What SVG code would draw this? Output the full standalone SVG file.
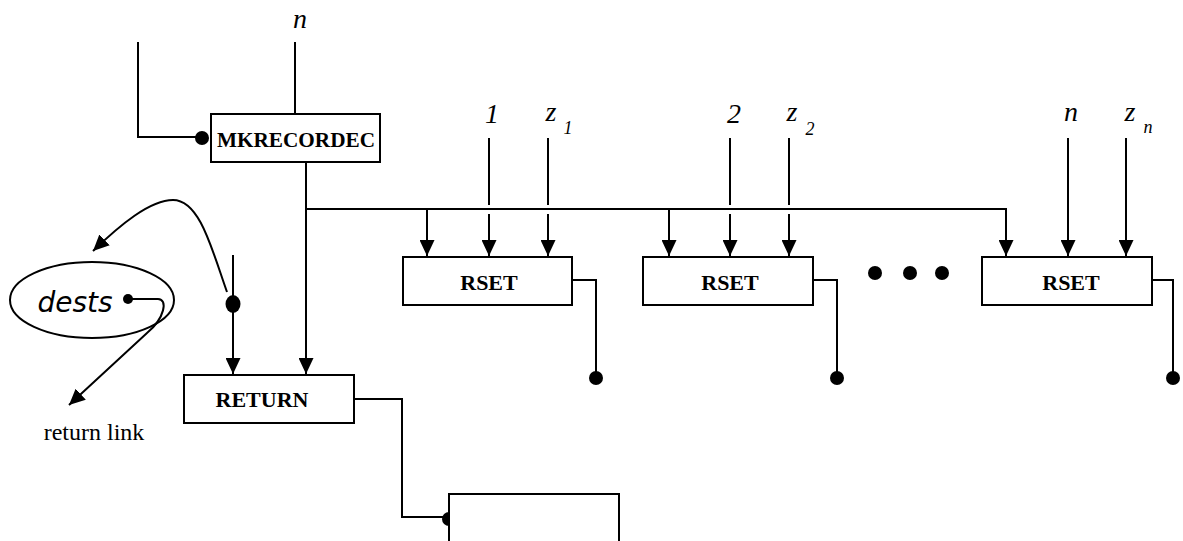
<svg xmlns="http://www.w3.org/2000/svg" width="1183" height="541" viewBox="0 0 1183 541">
<defs>
<marker id="arr" markerUnits="userSpaceOnUse" markerWidth="17" markerHeight="15" viewBox="0 0 17 15" refX="16" refY="7.5" orient="auto">
<path d="M0,0 L16,7.5 L0,15 Z" fill="#000"/>
</marker>
</defs>
<style>
.ln{fill:none;stroke:#000;stroke-width:2}
.box{fill:#fff;stroke:#000;stroke-width:2}
.lbl{font-family:"Liberation Serif",serif;font-weight:bold;font-size:22px;text-anchor:middle}
.it{font-family:"Liberation Serif",serif;font-style:italic;font-size:28px;text-anchor:middle}
.sub{font-family:"Liberation Serif",serif;font-style:italic;font-size:18px;text-anchor:middle}
.dot{fill:#000}
</style>
<rect width="1183" height="541" fill="#fff"/>
<g id="connectors">
<path class="ln" d="M138,42 V137 H198"/>
<circle class="dot" cx="202" cy="138" r="7"/>
<path class="ln" d="M295,42 V114"/>
<path class="ln" d="M306,162 V374" marker-end="url(#arr)"/>
<path class="ln" d="M306,209 H1006 V256" marker-end="url(#arr)"/>
<path class="ln" d="M427,209 V256" marker-end="url(#arr)"/>
<path class="ln" d="M669,209 V256" marker-end="url(#arr)"/>
<path class="ln" d="M489,138 V205 M489,214 V256" marker-end="url(#arr)"/>
<path class="ln" d="M548,138 V205 M548,214 V256" marker-end="url(#arr)"/>
<path class="ln" d="M730,138 V205 M730,214 V256" marker-end="url(#arr)"/>
<path class="ln" d="M789,138 V205 M789,214 V256" marker-end="url(#arr)"/>
<path class="ln" d="M1068,138 V256" marker-end="url(#arr)"/>
<path class="ln" d="M1126,138 V256" marker-end="url(#arr)"/>
<path class="ln" d="M572,280 H596 V376"/>
<circle class="dot" cx="596" cy="378" r="7"/>
<path class="ln" d="M813,280 H837 V376"/>
<circle class="dot" cx="837" cy="378" r="7"/>
<path class="ln" d="M1152,280 H1173 V376"/>
<circle class="dot" cx="1173" cy="378" r="7"/>
<path class="ln" d="M233,255 V374" marker-end="url(#arr)"/>
<ellipse class="dot" cx="233" cy="304" rx="7.5" ry="9"/>
<path class="ln" d="M227,292 C212,250 200,200 173,200 C150,200 120,225 93,251" marker-end="url(#arr)"/>
<path class="ln" d="M130,299 H158 C168,299 165,318 147,333 L69,405" marker-end="url(#arr)"/>
<path class="ln" d="M354,399 H402 V517 H446"/>
<circle class="dot" cx="449" cy="519" r="7"/>
</g>
<g id="mkrecordec">
<rect class="box" x="211" y="114" width="169" height="48"/>
<text class="lbl" x="296" y="147" textLength="158" lengthAdjust="spacingAndGlyphs">MKRECORDEC</text>
</g>
<text class="it" x="300" y="28">n</text>
<g id="rset1">
<rect class="box" x="403" y="257" width="169" height="48"/>
<text class="lbl" x="489" y="290">RSET</text>
</g>
<g id="rset2">
<rect class="box" x="643" y="257" width="170" height="48"/>
<text class="lbl" x="730" y="290">RSET</text>
</g>
<g id="rset3">
<rect class="box" x="982" y="257" width="170" height="48"/>
<text class="lbl" x="1071" y="290">RSET</text>
</g>
<g id="labels">
<text class="it" x="492" y="123">1</text>
<text class="it" x="551" y="121">z</text>
<text class="sub" x="568" y="134">1</text>
<text class="it" x="734" y="123">2</text>
<text class="it" x="792" y="121">z</text>
<text class="sub" x="810" y="135">2</text>
<text class="it" x="1071" y="121">n</text>
<text class="it" x="1130" y="121">z</text>
<text class="sub" x="1148" y="133">n</text>
</g>
<g id="ellipsis">
<circle class="dot" cx="875" cy="273" r="7"/>
<circle class="dot" cx="910" cy="273" r="7"/>
<circle class="dot" cx="942" cy="273" r="7"/>
</g>
<g id="dests">
<ellipse fill="none" stroke="#000" stroke-width="2" cx="92" cy="300" rx="82" ry="38"/>
<text x="75" y="312" font-family="DejaVu Sans,sans-serif" font-style="italic" font-size="28" text-anchor="middle">dests</text>
<circle class="dot" cx="128" cy="299" r="5"/>
</g>
<text x="94" y="440" font-family="Liberation Serif,serif" font-size="24" text-anchor="middle">return link</text>
<g id="return">
<rect class="box" x="184" y="375" width="170" height="48"/>
<text class="lbl" x="262" y="407">RETURN</text>
</g>
<g id="bottom">
<rect class="box" x="449" y="494" width="170" height="60"/>
</g>
</svg>
